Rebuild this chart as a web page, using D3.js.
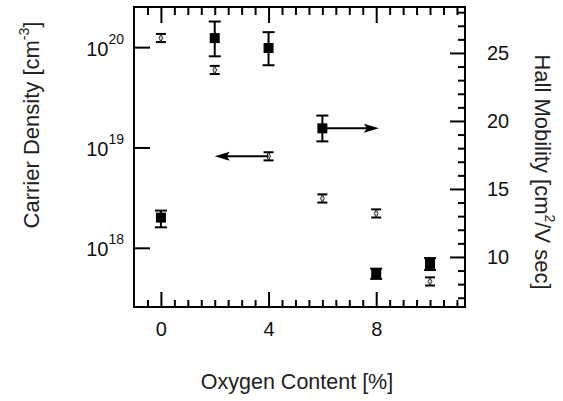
<!DOCTYPE html>
<html>
<head>
<meta charset="utf-8">
<script src="https://cdn.jsdelivr.net/npm/d3@7"></script>
<style>
  html, body { margin: 0; padding: 0; background: #fff; }
  svg { display: block; font-family: "Liberation Sans", Arial, sans-serif; }
</style>
</head>
<body>
<svg id="chart" width="563" height="401"></svg>
<script>
// Oxygen content of the films [%]
const oxygen = [0, 2, 4, 6, 8, 10];
// Carrier density [cm^-3] with upper / lower error limits
const carrierDensity = [2.0e18, 1.23e20, 0.98e20, 1.55e19, 5.5e17, 6.9e17];
const carrierUpper   = [2.35e18, 1.8e20, 1.41e20, 2.08e19, 6.2e17, 7.9e17];
const carrierLower   = [1.6e18, 8.1e19, 6.6e19, 1.15e19, 4.9e17, 6.0e17];
// Hall mobility [cm^2/V sec] with symmetric error
const hallMobility = [26.1, 23.75, 17.4, 14.3, 13.2, 8.2];
const mobilityErr  = [0.3, 0.3, 0.3, 0.3, 0.3, 0.3];
// Tick values
const xMajorTicks = [0, 4, 8];
const leftTicks = [1e18, 1e19, 1e20];
const rightMajorTicks = [10, 15, 20, 25];

const svg = d3.select("#chart");
const L = 134, R = 465, T = 7, B = 307;

const x = d3.scaleLinear().domain([-1, 11.3]).range([L, R]);
const yL = d3.scaleLog().domain([Math.pow(10, 17.41), Math.pow(10, 20.4)]).range([B, T]);
const yR = d3.scaleLinear().domain([6.32, 28.38]).range([B, T]);

const xMinor = d3.range(-0.5, 11.01, 0.5).filter(v => !xMajorTicks.includes(v));
const rightMinor = d3.range(7, 28.01, 1).filter(v => !rightMajorTicks.includes(v));

function styleAxis(g) {
  g.select(".domain").remove();
  g.selectAll(".tick line").attr("stroke", "#000").attr("stroke-width", 2);
  g.selectAll("text").attr("fill", "#111");
}

// Bottom axis: inward ticks
svg.append("g").attr("transform", `translate(0,${B})`)
  .call(d3.axisBottom(x).tickValues(xMinor).tickSize(-7).tickFormat(""))
  .call(styleAxis);
svg.append("g").attr("transform", `translate(0,${B})`)
  .call(d3.axisBottom(x).tickValues(xMajorTicks).tickSize(-15).tickPadding(15)
    .tickFormat(d3.format("d")))
  .call(styleAxis)
  .selectAll("text").attr("font-size", 20);

// Top axis mirrors the bottom one
svg.append("g").attr("transform", `translate(0,${T})`)
  .call(d3.axisTop(x).tickValues(xMinor).tickSize(-8).tickFormat(""))
  .call(styleAxis);
svg.append("g").attr("transform", `translate(0,${T})`)
  .call(d3.axisTop(x).tickValues(xMajorTicks).tickSize(-16).tickFormat(""))
  .call(styleAxis);

// Left log axis with power-of-ten labels
const leftAxis = svg.append("g").attr("transform", `translate(${L},0)`)
  .call(d3.axisLeft(yL).tickValues(leftTicks).tickSize(-16).tickFormat(""))
  .call(styleAxis);
leftAxis.selectAll(".tick").each(function(d) {
  const t = d3.select(this).append("text")
    .attr("fill", "#111").attr("text-anchor", "end")
    .attr("x", -10).attr("y", 8).attr("font-size", 20);
  t.append("tspan").text("10");
  t.append("tspan").attr("font-size", 14).attr("dy", -12)
    .text(Math.round(Math.log10(d)));
});

// Right linear axis
svg.append("g").attr("transform", `translate(${R},0)`)
  .call(d3.axisRight(yR).tickValues(rightMinor).tickSize(-7).tickFormat(""))
  .call(styleAxis);
svg.append("g").attr("transform", `translate(${R},0)`)
  .call(d3.axisRight(yR).tickValues(rightMajorTicks).tickSize(-15).tickPadding(22)
    .tickFormat(d3.format("d")))
  .call(styleAxis)
  .selectAll("text").attr("font-size", 20);

// Plot frame
svg.append("rect").attr("x", L).attr("y", T).attr("width", R - L).attr("height", B - T)
  .attr("fill", "none").attr("stroke", "#000").attr("stroke-width", 2);

// Axis titles
svg.append("text").attr("transform", "translate(39,125) rotate(-90)")
  .attr("text-anchor", "middle").attr("font-size", 22).attr("fill", "#222")
  .call(t => {
    t.append("tspan").text("Carrier Density [cm");
    t.append("tspan").attr("font-size", 14).attr("dy", -10).text("-3");
    t.append("tspan").attr("dy", 10).text("]");
  });
svg.append("text").attr("transform", "translate(535,172) rotate(90)")
  .attr("text-anchor", "middle").attr("font-size", 22).attr("fill", "#222")
  .call(t => {
    t.append("tspan").text("Hall Mobility [cm");
    t.append("tspan").attr("font-size", 14).attr("dy", -10).text("2");
    t.append("tspan").attr("dy", 10).text("/V sec]");
  });
svg.append("text").attr("x", 297).attr("y", 389)
  .attr("text-anchor", "middle").attr("font-size", 21.5).attr("fill", "#222")
  .text("Oxygen Content [%]");

// Carrier density: filled squares with error bars
const cd = svg.append("g");
oxygen.forEach((o, i) => {
  const cx = x(o);
  const g = cd.append("g").attr("stroke", "#000").attr("stroke-width", 2);
  g.append("line").attr("x1", cx).attr("x2", cx)
    .attr("y1", yL(carrierUpper[i])).attr("y2", yL(carrierLower[i]));
  [carrierUpper[i], carrierLower[i]].forEach(v => {
    g.append("line").attr("x1", cx - 6).attr("x2", cx + 6)
      .attr("y1", yL(v)).attr("y2", yL(v));
  });
  cd.append("rect").attr("x", cx - 5).attr("y", yL(carrierDensity[i]) - 5)
    .attr("width", 10).attr("height", 10).attr("fill", "#000");
});

// Hall mobility: small open markers with error bars
const hm = svg.append("g");
oxygen.forEach((o, i) => {
  const cx = x(o);
  const hi = yR(hallMobility[i] + mobilityErr[i]);
  const lo = yR(hallMobility[i] - mobilityErr[i]);
  const g = hm.append("g").attr("stroke", "#000").attr("stroke-width", 2);
  g.append("line").attr("x1", cx).attr("x2", cx).attr("y1", hi).attr("y2", lo);
  [hi, lo].forEach(v => {
    g.append("line").attr("x1", cx - 5).attr("x2", cx + 5).attr("y1", v).attr("y2", v);
  });
  hm.append("path")
    .attr("d", d3.symbol(d3.symbolDiamond, 14)())
    .attr("transform", `translate(${cx},${yR(hallMobility[i])})`)
    .attr("fill", "#ccc").attr("stroke", "#333").attr("stroke-width", 1);
});

// Arrows pointing to the axis each series belongs to
function arrow(x1, y1, x2, y2) {
  const dir = Math.sign(x2 - x1);
  svg.append("line").attr("x1", x1).attr("y1", y1).attr("x2", x2 - dir * 10).attr("y2", y2)
    .attr("stroke", "#000").attr("stroke-width", 2);
  svg.append("path")
    .attr("d", `M${x2},${y2} L${x2 - dir * 15},${y2 - 4.5} L${x2 - dir * 12},${y2} L${x2 - dir * 15},${y2 + 4.5} Z`)
    .attr("fill", "#000");
}
arrow(x(4), yR(hallMobility[2]), x(2), yR(hallMobility[2]));
arrow(x(6), yL(carrierDensity[3]), x(8.1), yL(carrierDensity[3]));
</script>
</body>
</html>
